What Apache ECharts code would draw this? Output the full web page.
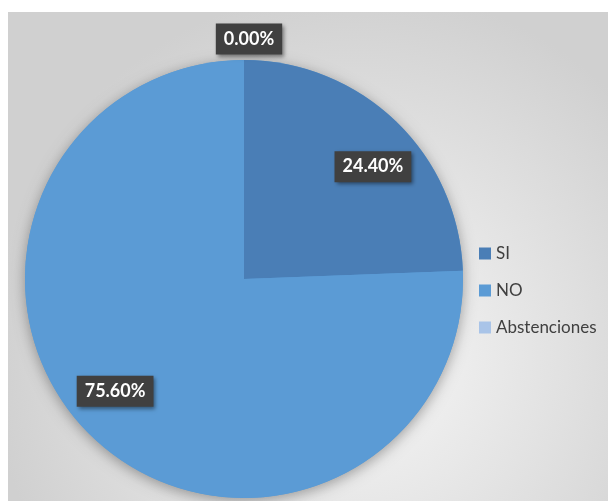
<!DOCTYPE html>
<html>
<head>
<meta charset="utf-8">
<script src="https://cdn.jsdelivr.net/npm/echarts@6/dist/echarts.min.js"></script>
<style>
  html, body { margin: 0; padding: 0; background: #fff; }
  #chart { width: 608px; height: 501px; }
</style>
</head>
<body>
<div id="chart"></div>
<script>
// votes, in percent
const categories = ["SI", "NO", "Abstenciones"];
const values = [24.4, 75.6, 0];
const colors = ["#4a7eb6", "#5b9bd5", "#a9c4e8"];

const chart = echarts.init(document.getElementById("chart"));

const labelBox = {
  color: "#fff",
  fontFamily: "Lato",
  fontWeight: "bold",
  fontSize: 18,
  backgroundColor: "#404040",
  padding: [7, 8, 6, 8],
  shadowColor: "rgba(0,0,0,0.45)",
  shadowBlur: 4,
  shadowOffsetX: 2,
  shadowOffsetY: 2,
  formatter: (p) => p.value.toFixed(2) + "%",
};

const center = [244, 279];
const radius = 219;

chart.setOption({
  animation: false,
  graphic: [
    {
      type: "rect",
      z: -10,
      shape: { x: 8, y: 12, width: 600, height: 489 },
      style: {
        fill: {
          type: "radial",
          x: 0.58,
          y: 0.7,
          r: 0.75,
          colorStops: [
            { offset: 0, color: "#f8f8f8" },
            { offset: 1, color: "#d0d0d0" },
          ],
        },
      },
    },
  ],
  legend: {
    orient: "vertical",
    left: 479,
    top: 245,
    padding: 0,
    itemWidth: 12,
    itemHeight: 12,
    itemGap: 20,
    icon: "rect",
    data: categories,
    textStyle: { fontFamily: "Lato", fontSize: 17, lineHeight: 16, color: "#404040" },
  },
  series: [
    {
      // drop shadow under the whole pie
      type: "pie",
      center: center,
      radius: radius,
      silent: true,
      label: { show: false },
      itemStyle: {
        color: "#5b9bd5",
        shadowColor: "rgba(0,0,0,0.35)",
        shadowBlur: 14,
        shadowOffsetY: 3,
      },
      data: [{ value: 1, name: "" }],
    },
    {
      type: "pie",
      center: center,
      radius: radius,
      startAngle: 90,
      clockwise: true,
      avoidLabelOverlap: false,
      silent: true,
      label: Object.assign({ show: true, position: "outside" }, labelBox),
      labelLine: { show: false, length: 21, length2: 0 },
      labelLayout: (p) => (p.dataIndex === 2 ? { align: "center" } : {}),
      data: categories.map((name, i) => ({
        name: name,
        value: values[i],
        itemStyle: { color: colors[i] },
        label: { show: i === 2 },
      })),
    },
    {
      // carries the inner labels a bit further out than the default
      type: "pie",
      center: center,
      radius: [0, 336],
      startAngle: 85,
      clockwise: true,
      avoidLabelOverlap: false,
      silent: true,
      itemStyle: { color: "rgba(0,0,0,0)" },
      label: Object.assign({ show: true, position: "inside" }, labelBox),
      labelLine: { show: false },
      data: categories.map((name, i) => ({
        name: name,
        value: values[i],
        label: { show: i !== 2 },
      })),
    },
  ],
});
</script>
</body>
</html>
